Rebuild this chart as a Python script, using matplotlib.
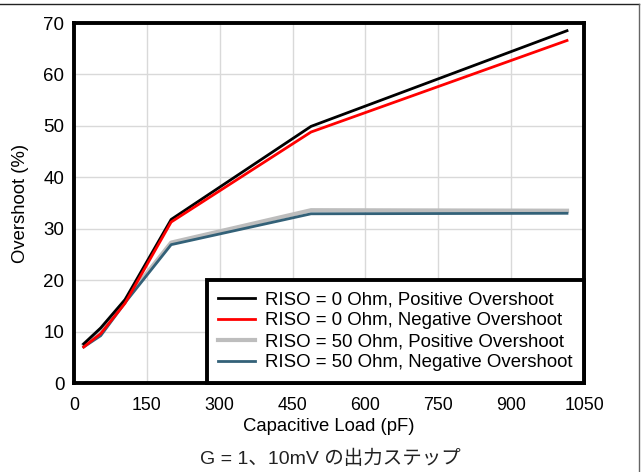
import matplotlib
matplotlib.use("Agg")
import matplotlib.pyplot as plt
from matplotlib.lines import Line2D

plt.rcParams['font.family'] = ['Liberation Sans', 'Noto Sans CJK JP', 'DejaVu Sans']

cap_pf = [20, 55, 105, 200, 488, 1015]
riso0_pos = [7.6, 10.7, 16.2, 31.8, 49.9, 68.5]
riso0_neg = [7.0, 9.6, 15.5, 31.3, 48.8, 66.6]
riso50_pos = [7.5, 10.5, 16.0, 27.3, 33.6, 33.5]
riso50_neg = [7.0, 9.2, 15.6, 26.9, 32.9, 33.0]

labels = ["RISO = 0 Ohm, Positive Overshoot",
          "RISO = 0 Ohm, Negative Overshoot",
          "RISO = 50 Ohm, Positive Overshoot",
          "RISO = 50 Ohm, Negative Overshoot"]
xticks = [0, 150, 300, 450, 600, 750, 900, 1050]
yticks = [0, 10, 20, 30, 40, 50, 60, 70]
caption = "G = 1、10mV の出力ステップ"

fig = plt.figure(figsize=(6.42, 4.72), dpi=100)
ax = fig.add_axes([74/642, 89/472, 510/642, 360/472])

ax.plot(cap_pf, riso0_pos, color='black', lw=2, label=labels[0], zorder=4)
ax.plot(cap_pf, riso0_neg, color='#ff0000', lw=2, label=labels[1], zorder=5)
ax.plot(cap_pf, riso50_pos, color='#bdbdbd', lw=3, label=labels[2], zorder=2)
ax.plot(cap_pf, riso50_neg, color='#336178', lw=2, label=labels[3], zorder=3)

ax.set_xlim(0, 1050)
ax.set_ylim(0, 70)
ax.set_xticks(xticks)
ax.set_yticks(yticks)
ax.tick_params(axis='x', length=0, labelsize=12.8, pad=10)
ax.tick_params(axis='y', length=0, labelsize=13.5, pad=7)
ax.grid(True, color='#d9d9d9', lw=1)
ax.set_axisbelow(True)
for s in ax.spines.values():
    s.set_linewidth(2.8)
    s.set_color('black')

ax.set_xlabel("Capacitive Load (pF)", fontsize=13.3, labelpad=3)
ax.set_ylabel("Overshoot (%)", fontsize=13.3, labelpad=10)

leg = ax.legend(loc='lower right', fontsize=13.4, frameon=True, fancybox=False,
                framealpha=1, borderaxespad=0, handlelength=1.95, labelspacing=0.22,
                borderpad=0.62, handletextpad=0.55)
leg.get_frame().set_edgecolor('black')
leg.get_frame().set_linewidth(2.8)
leg.set_zorder(10)

fig.text(330/642, 1 - 459/472, caption, ha='center', va='center', fontsize=14,
         color='#222222')

fig.add_artist(Line2D([0, 639/642], [1 - 4/472, 1 - 4/472], transform=fig.transFigure,
                      color='#222222', lw=1))
fig.add_artist(Line2D([639/642, 639/642], [0, 1 - 4/472], transform=fig.transFigure,
                      color='#666666', lw=1))

fig.savefig("out.png", dpi=100)
